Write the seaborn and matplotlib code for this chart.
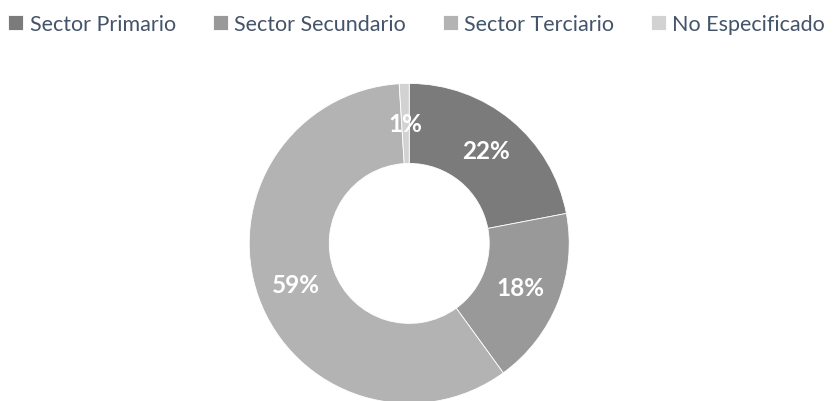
import matplotlib
matplotlib.use('Agg')
import matplotlib.pyplot as plt
import seaborn as sns

sectors = ['Sector Primario', 'Sector Secundario', 'Sector Terciario', 'No Especificado']
shares = [22, 18, 59, 1]
greys = ['#7b7b7b', '#999999', '#b3b3b3', '#d2d2d2']

sns.set_theme(style='white')
plt.rcParams['font.family'] = ['Lato', 'DejaVu Sans']

fig = plt.figure(figsize=(8.36, 4.02), dpi=100)
ax = fig.add_axes([0.298, -0.006, 0.383, 0.796])

wedges, texts, autotexts = ax.pie(
    shares, colors=greys, startangle=90, counterclock=False,
    autopct='%1.0f%%', pctdistance=0.75,
    wedgeprops=dict(width=0.5, edgecolor='white', linewidth=0.6),
    textprops=dict(color='white', fontsize=17.5, fontweight='bold'))
ax.set_xlim(-1, 1)
ax.set_ylim(-1, 1)
ax.set_aspect('equal')

leg = fig.legend(wedges, sectors, loc='upper left', bbox_to_anchor=(-0.008, 1.0),
                 ncol=4, frameon=False, fontsize=15.5, handlelength=0.7,
                 handleheight=0.7, handletextpad=0.3, columnspacing=1.7,
                 borderaxespad=0.3)
for t in leg.get_texts():
    t.set_color('#44546a')

fig.savefig('out.png', dpi=100)
